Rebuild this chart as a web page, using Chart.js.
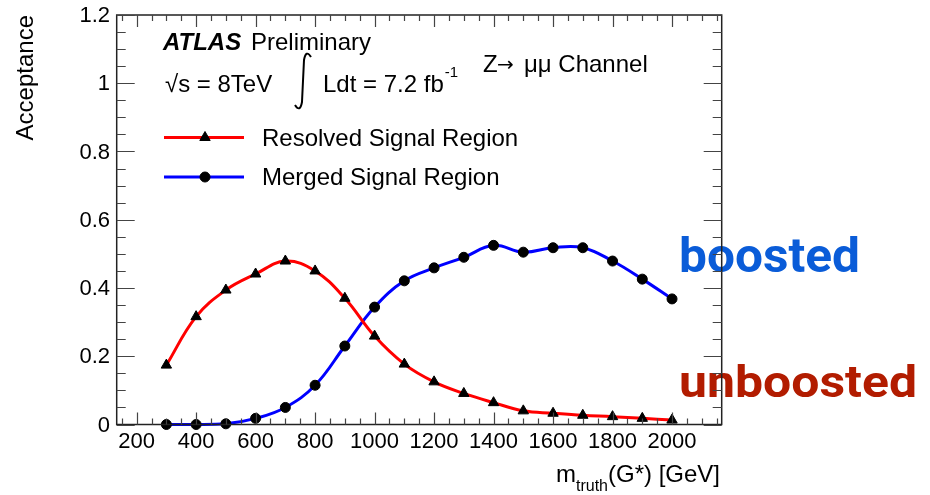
<!DOCTYPE html>
<html>
<head>
<meta charset="utf-8">
<script src="https://cdn.jsdelivr.net/npm/chart.js@4/dist/chart.umd.min.js"></script>
<style>
  html, body { margin: 0; padding: 0; background: #fff; }
  #wrap { width: 930px; height: 495px; }
</style>
</head>
<body>
<div id="wrap"><canvas id="accChart" width="930" height="495"></canvas></div>
<script>
// G* mass points (GeV)
const masses = [300, 400, 500, 600, 700, 800, 900, 1000, 1100, 1200, 1300, 1400, 1500, 1600, 1700, 1800, 1900, 2000];
// acceptance
const resolved = [0.174, 0.316, 0.394, 0.441, 0.479, 0.450, 0.370, 0.259, 0.177, 0.125, 0.091, 0.064, 0.040, 0.033, 0.027, 0.023, 0.018, 0.013];
const merged   = [0.000, 0.000, 0.002, 0.018, 0.050, 0.115, 0.230, 0.344, 0.421, 0.459, 0.490, 0.525, 0.505, 0.518, 0.518, 0.479, 0.426, 0.368];

const seriesNames = ['Resolved Signal Region', 'Merged Signal Region'];
const xTickValues = [200, 400, 600, 800, 1000, 1200, 1400, 1600, 1800, 2000];
const xTickLabels = ['200', '400', '600', '800', '1000', '1200', '1400', '1600', '1800', '2000'];
const yTickValues = [0, 0.2, 0.4, 0.6, 0.8, 1, 1.2];
const yTickLabels = ['0', '0.2', '0.4', '0.6', '0.8', '1', '1.2'];

const FONT = '"Liberation Sans", Arial, Helvetica, sans-serif';

function pts(ys) { return masses.map((m, i) => ({ x: m, y: ys[i] })); }

// draws text squeezed into a given box (width, ascent above baseline)
function fitText(ctx, txt, x, base, w, asc, color) {
  ctx.save();
  ctx.font = '700 40px Roboto, "DejaVu Sans", sans-serif';
  const m = ctx.measureText(txt);
  const sx = w / m.width, sy = asc / m.actualBoundingBoxAscent;
  ctx.translate(x, base);
  ctx.scale(sx, sy);
  ctx.fillStyle = color;
  ctx.textAlign = 'left';
  ctx.textBaseline = 'alphabetic';
  ctx.fillText(txt, 0, 0);
  ctx.restore();
}

const rootStyle = {
  id: 'rootStyle',
  afterDraw(chart) {
    const { ctx, chartArea: a, scales: { x, y } } = chart;
    ctx.save();

    // side labels
    fitText(ctx, 'boosted', 679, 271.5, 181, 36.5, '#0a5cd8');
    fitText(ctx, 'unboosted', 679, 396.7, 238, 32.7, '#b21c00');

    // frame
    ctx.strokeStyle = '#222';
    ctx.lineWidth = 1.5;
    ctx.strokeRect(a.left, a.top, a.right - a.left, a.bottom - a.top);

    // ticks, drawn inward like ROOT
    ctx.strokeStyle = '#444';
    ctx.lineWidth = 1.2;
    ctx.beginPath();
    for (let v = 0; v <= 1.2001; v += 0.05) {
      const py = Math.round(y.getPixelForValue(v)) + 0.5;
      const major = Math.abs(v / 0.2 - Math.round(v / 0.2)) < 1e-6;
      const len = major ? 18 : 9;
      ctx.moveTo(a.left, py); ctx.lineTo(a.left + len, py);
      ctx.moveTo(a.right, py); ctx.lineTo(a.right - len, py);
    }
    for (let v = 150; v <= 2150; v += 50) {
      const px = Math.round(x.getPixelForValue(v)) + 0.5;
      const major = v % 200 === 0;
      const len = major ? 12 : 6;
      ctx.moveTo(px, a.bottom); ctx.lineTo(px, a.bottom - len);
      ctx.moveTo(px, a.top); ctx.lineTo(px, a.top + len);
    }
    ctx.stroke();

    // tick labels
    ctx.fillStyle = '#000';
    ctx.font = '22px ' + FONT;
    ctx.textAlign = 'center';
    ctx.textBaseline = 'alphabetic';
    xTickValues.forEach((v, i) => ctx.fillText(xTickLabels[i], x.getPixelForValue(v), 448));
    ctx.textAlign = 'right';
    ctx.textBaseline = 'middle';
    yTickValues.forEach((v, i) => ctx.fillText(yTickLabels[i], 110, y.getPixelForValue(v) + 1));

    // axis titles
    ctx.font = '24px ' + FONT;
    ctx.save();
    ctx.translate(33, 15);
    ctx.rotate(-Math.PI / 2);
    ctx.textAlign = 'right';
    ctx.textBaseline = 'alphabetic';
    ctx.fillText('Acceptance', 0, 0);
    ctx.restore();

    ctx.textAlign = 'left';
    ctx.textBaseline = 'alphabetic';
    const sub = 'truth', tail = '(G*) [GeV]';
    ctx.font = '24px ' + FONT;
    const wm = ctx.measureText('m').width, wt = ctx.measureText(tail).width;
    ctx.font = '16px ' + FONT;
    const ws = ctx.measureText(sub).width;
    let xt = 720 - wm - ws - wt;
    ctx.font = '24px ' + FONT;
    ctx.fillText('m', xt, 482);
    ctx.font = '16px ' + FONT;
    ctx.fillText(sub, xt + wm, 491);
    ctx.font = '24px ' + FONT;
    ctx.fillText(tail, xt + wm + ws, 482);

    // ATLAS label block
    ctx.font = 'italic 700 24px ' + FONT;
    ctx.fillText('ATLAS', 163, 50);
    ctx.font = '24px ' + FONT;
    ctx.fillText('Preliminary', 251, 50);
    ctx.fillText('\u221As = 8TeV', 165, 92);
    const lumi = 'Ldt = 7.2 fb';
    ctx.fillText(lumi, 323, 92);
    const wl = ctx.measureText(lumi).width;
    ctx.font = '15px ' + FONT;
    ctx.fillText('-1', 323 + wl + 1, 77);
    ctx.font = '24px ' + FONT;
    ctx.fillText('Z', 483, 72);
    ctx.font = '20px "DejaVu Sans", sans-serif';
    ctx.fillText('\u2192', 497, 71);
    ctx.font = '24px ' + FONT;
    ctx.fillText('\u03bc\u03bc Channel', 524, 72);

    // integral sign
    ctx.strokeStyle = '#000';
    ctx.lineWidth = 2;
    ctx.beginPath();
    ctx.moveTo(311, 57);
    ctx.quadraticCurveTo(306, 49, 304, 60);
    ctx.lineTo(302, 102);
    ctx.quadraticCurveTo(300, 113, 295, 105);
    ctx.stroke();

    // legend
    const legY = [137.5, 177];
    const legCol = ['#ff0000', '#0000ff'];
    const legShape = ['triangle', 'circle'];
    const legRad = [6, 5];
    for (let i = 0; i < 2; i++) {
      ctx.strokeStyle = legCol[i];
      ctx.lineWidth = 3;
      ctx.beginPath();
      ctx.moveTo(164, legY[i]); ctx.lineTo(244, legY[i]);
      ctx.stroke();
      ctx.fillStyle = '#000';
      ctx.strokeStyle = '#000';
      ctx.lineWidth = 1;
      Chart.helpers.drawPoint(ctx, { pointStyle: legShape[i], radius: legRad[i], rotation: 0, borderWidth: 1 }, 205, legY[i]);
      ctx.font = '24px ' + FONT;
      ctx.fillText(seriesNames[i], 262, legY[i] + 8);
    }
    ctx.restore();
  }
};

new Chart(document.getElementById('accChart'), {
  type: 'line',
  data: {
    datasets: [
      {
        label: seriesNames[0],
        data: pts(resolved),
        borderColor: '#ff0000',
        borderWidth: 3,
        tension: 0.4,
        pointStyle: 'triangle',
        pointRadius: 6,
        pointBackgroundColor: '#000',
        pointBorderColor: '#000',
        pointBorderWidth: 1,
        clip: false
      },
      {
        label: seriesNames[1],
        data: pts(merged),
        borderColor: '#0000ff',
        borderWidth: 3,
        tension: 0.4,
        pointStyle: 'circle',
        pointRadius: 5,
        pointBackgroundColor: '#000',
        pointBorderColor: '#000',
        pointBorderWidth: 1,
        clip: false
      }
    ]
  },
  options: {
    responsive: false,
    animation: false,
    devicePixelRatio: 1,
    layout: { padding: { left: 116.7, top: 15, right: 208.3, bottom: 70.5 } },
    scales: {
      x: { type: 'linear', min: 133, max: 2167, display: false },
      y: { type: 'linear', min: 0, max: 1.2, display: false }
    },
    plugins: { legend: { display: false }, tooltip: { enabled: false } },
    events: []
  },
  plugins: [rootStyle]
});
</script>
</body>
</html>
